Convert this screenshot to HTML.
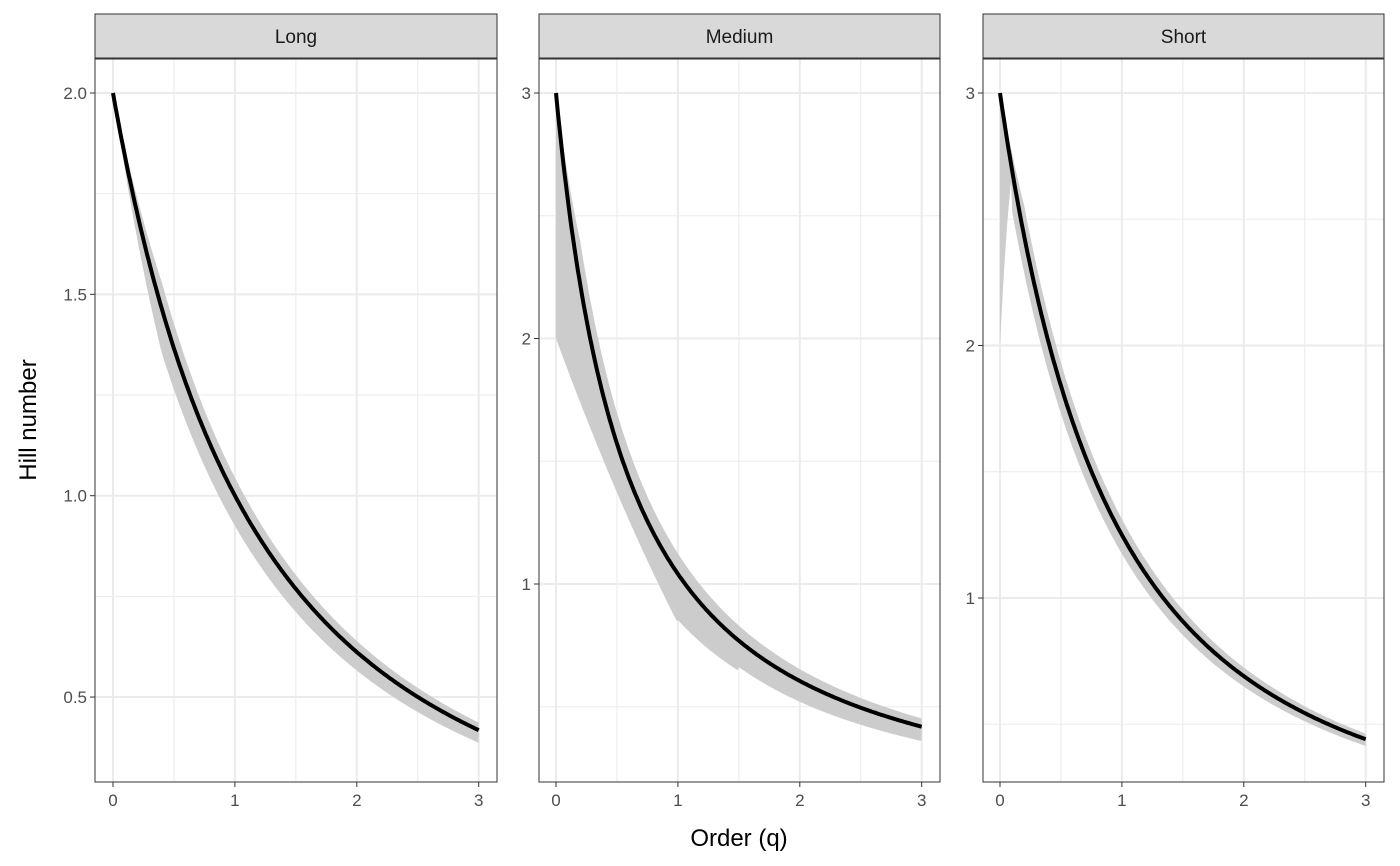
<!DOCTYPE html>
<html><head><style>body{margin:0;background:#fff}svg{display:block}</style></head><body>
<svg id="s" width="1400" height="866" xmlns="http://www.w3.org/2000/svg" font-family="Liberation Sans, sans-serif"></svg>
<script>
const s=document.getElementById('s');let h='';
const panels=[
{x0:95,x1:497,xz:113,name:'Long',y0v:2,y0p:93,sc:402.7,maj:[2,1.5,1,0.5],lab:['2.0','1.5','1.0','0.5'],min:[1.75,1.25,0.75],
 f:q=>2/Math.pow(1+0.5*q,1.709),lo:(q,f)=>f*(1-0.075*Math.min(1,q/0.4)),hi:(q,f)=>f*(1+0.045*Math.min(1,q/0.4))},
{x0:539,x1:940,xz:556,name:'Medium',y0v:3,y0p:93,sc:245.5,maj:[3,2,1],lab:['3','2','1'],min:[2.5,1.5,0.5],
 f:q=>3/Math.pow(1+1.5*q,1.155),lo:(q,f)=>q<1?Math.min(f,2-1.35*q+0.19*q*q):f*(q<1.5?0.82+0.04*(q-1):0.86),hi:(q,f)=>q<0.02?3:f*(1+0.08*Math.min(1,q/0.2))},
{x0:983,x1:1384,xz:1000,name:'Short',y0v:3,y0p:93,sc:252.5,maj:[3,2,1],lab:['3','2','1'],min:[2.5,1.5,0.5],
 f:q=>3/Math.pow(1+0.6*q,1.863),lo:(q,f)=>q<0.1?Math.min(f,2+(f-2)*q/0.1):f*0.94,hi:(q,f)=>f*(1+0.05*Math.min(1,q/0.2))}
];
const xs=121.9;
panels.forEach(p=>{
 const Y=v=>p.y0p-(v-p.y0v)*p.sc, X=q=>p.xz+q*xs;
 h+=`<rect x="${p.x0}" y="59" width="${p.x1-p.x0}" height="723" fill="#fff"/>`;
 p.min.forEach(v=>h+=`<line x1="${p.x0}" x2="${p.x1}" y1="${Y(v)}" y2="${Y(v)}" stroke="#ebebeb" stroke-width="1"/>`);
 [0.5,1.5,2.5].forEach(q=>h+=`<line x1="${X(q)}" x2="${X(q)}" y1="59" y2="782" stroke="#ebebeb" stroke-width="1"/>`);
 p.maj.forEach(v=>h+=`<line x1="${p.x0}" x2="${p.x1}" y1="${Y(v)}" y2="${Y(v)}" stroke="#ebebeb" stroke-width="2"/>`);
 [0,1,2,3].forEach(q=>h+=`<line x1="${X(q)}" x2="${X(q)}" y1="59" y2="782" stroke="#ebebeb" stroke-width="2"/>`);
 let up=[],dn=[],ln=[];
 for(let i=0;i<=300;i++){const q=i/100,f=p.f(q);ln.push(X(q).toFixed(1)+','+Y(f).toFixed(1));up.push(X(q).toFixed(1)+','+Y(p.hi(q,f)).toFixed(1));dn.push(X(q).toFixed(1)+','+Y(p.lo(q,f)).toFixed(1));}
 h+=`<polygon points="${up.join(' ')} ${dn.reverse().join(' ')}" fill="#cccccc"/>`;
 h+=`<polyline points="${ln.join(' ')}" fill="none" stroke="#000" stroke-width="4"/>`;
 h+=`<rect x="${p.x0}" y="59" width="${p.x1-p.x0}" height="723" fill="none" stroke="#333" stroke-width="1"/>`;
 h+=`<rect x="${p.x0}" y="14" width="${p.x1-p.x0}" height="44" fill="#d9d9d9" stroke="#333" stroke-width="1"/>`;
 h+=`<text x="${(p.x0+p.x1)/2}" y="43" font-size="19" fill="#1a1a1a" text-anchor="middle">${p.name}</text>`;
 p.maj.forEach((v,i)=>{h+=`<line x1="${p.x0-5}" x2="${p.x0}" y1="${Y(v)}" y2="${Y(v)}" stroke="#333"/>`;h+=`<text x="${p.x0-8}" y="${Y(v)+6}" font-size="17" fill="#4d4d4d" text-anchor="end">${p.lab[i]}</text>`;});
 [0,1,2,3].forEach(q=>{h+=`<line x1="${X(q)}" x2="${X(q)}" y1="782" y2="787" stroke="#333"/>`;h+=`<text x="${X(q)}" y="806" font-size="17" fill="#4d4d4d" text-anchor="middle">${q}</text>`;});
});
h+=`<text x="739" y="846" font-size="24" text-anchor="middle">Order (q)</text>`;
h+=`<text transform="translate(36,420) rotate(-90)" font-size="24" text-anchor="middle">Hill number</text>`;
s.innerHTML=h;
</script>
</body></html>
